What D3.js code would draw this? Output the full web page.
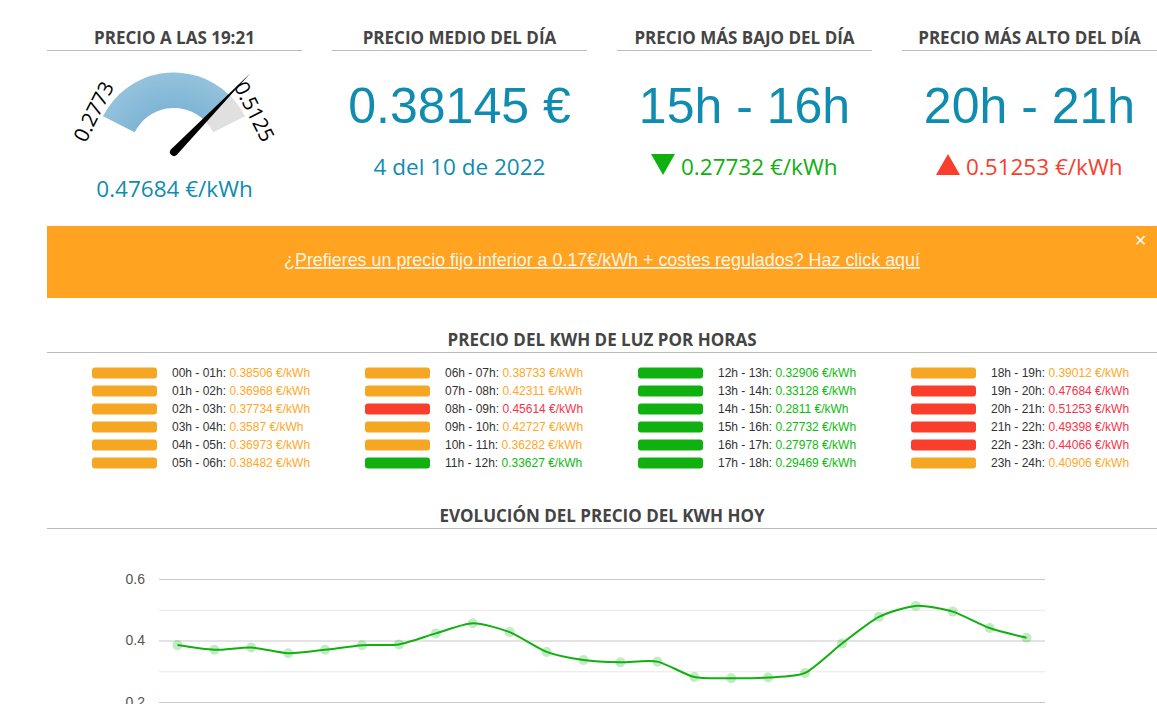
<!DOCTYPE html>
<html lang="es">
<head>
<meta charset="utf-8">
<title>Precio de la luz</title>
<script src="https://cdn.jsdelivr.net/npm/d3@7"></script>
<style>
  html, body { margin: 0; background: #fff; overflow: hidden; }
  svg { display: block; }
  .heading { font-family: "Open Sans", sans-serif; font-weight: 700; fill: #444; text-anchor: middle; font-size: 17px; }
  .rule { stroke: #bbb; stroke-width: 1; shape-rendering: crispEdges; }
  .big { font-family: "Liberation Sans", sans-serif; fill: #0f8cb0; text-anchor: middle; font-size: 50px; }
  .sub { font-family: "Open Sans", sans-serif; text-anchor: middle; font-size: 22.5px; }
  .row { font-family: "Liberation Sans", sans-serif; font-size: 12px; }
  .tick text { font-family: "Liberation Sans", sans-serif; font-size: 14px; fill: #555; }
</style>
</head>
<body>
<div id="chart"></div>
<script>
// Prices for today, one per hour
const hourLabels = ["00h - 01h", "01h - 02h", "02h - 03h", "03h - 04h", "04h - 05h", "05h - 06h",
  "06h - 07h", "07h - 08h", "08h - 09h", "09h - 10h", "10h - 11h", "11h - 12h",
  "12h - 13h", "13h - 14h", "14h - 15h", "15h - 16h", "16h - 17h", "17h - 18h",
  "18h - 19h", "19h - 20h", "20h - 21h", "21h - 22h", "22h - 23h", "23h - 24h"];
const hourPrices = [0.38506, 0.36968, 0.37734, 0.3587, 0.36973, 0.38482,
  0.38733, 0.42311, 0.45614, 0.42727, 0.36282, 0.33627,
  0.32906, 0.33128, 0.2811, 0.27732, 0.27978, 0.29469,
  0.39012, 0.47684, 0.51253, 0.49398, 0.44066, 0.40906];

const gaugeRange = [0.2773, 0.5125];
const gaugeValue = 0.47684;
const majorTicks = [0.6, 0.4, 0.2, 0];
const minorTicks = [0.5, 0.3, 0.1];

const headings = ["PRECIO A LAS 19:21", "PRECIO MEDIO DEL DÍA", "PRECIO MÁS BAJO DEL DÍA", "PRECIO MÁS ALTO DEL DÍA"];
const banner = "¿Prefieres un precio fijo inferior a 0.17€/kWh + costes regulados? Haz click aquí";

const svgWidth = 1157;
const svgHeight = 704;
const green = "#0fb00f", orange = "#f5a623", red = "#f93e2b";

const svg = d3.select("#chart").append("svg")
  .attr("width", svgWidth)
  .attr("height", svgHeight);

// Top row of four panels
const panelX = [47, 332, 617, 902];
const panelWidth = 255;
headings.forEach((h, i) => {
  svg.append("text").attr("class", "heading")
    .attr("x", panelX[i] + panelWidth / 2).attr("y", 44)
    .text(h);
  svg.append("line").attr("class", "rule")
    .attr("x1", panelX[i]).attr("x2", panelX[i] + panelWidth)
    .attr("y1", 50.5).attr("y2", 50.5);
});

// Gauge
const gaugeAngle = d3.scaleLinear().domain(gaugeRange).range([-63.3, 63.3]);
const rad = (d) => (d * Math.PI) / 180;
const arc = d3.arc().innerRadius(44).outerRadius(79.5);
const gauge = svg.append("g").attr("transform", "translate(174,152)");

const shade = svg.append("defs").append("radialGradient")
  .attr("id", "gaugeFill")
  .attr("gradientUnits", "userSpaceOnUse")
  .attr("cx", 0).attr("cy", 0).attr("r", 79.5);
shade.append("stop").attr("offset", "55%").attr("stop-color", "#7fb5d5");
shade.append("stop").attr("offset", "100%").attr("stop-color", "#93c2dc");

gauge.append("path").attr("fill", "#e0e0e0")
  .attr("d", arc({ startAngle: rad(gaugeAngle(gaugeValue)), endAngle: rad(gaugeAngle(gaugeRange[1])) }));
gauge.append("path").attr("fill", "url(#gaugeFill)")
  .attr("d", arc({ startAngle: rad(gaugeAngle(gaugeRange[0])), endAngle: rad(gaugeAngle(gaugeValue)) }));
gauge.selectAll(".limit").data(gaugeRange).enter().append("text")
  .attr("class", "limit")
  .attr("transform", (d) => `rotate(${gaugeAngle(d)}) translate(0,-90)`)
  .attr("text-anchor", "middle")
  .attr("dy", ".35em")
  .style("font-family", "'Open Sans', sans-serif")
  .style("font-size", "20.5px")
  .style("fill", "#000")
  .text((d) => d);
// needle, tapered from the round base out to the tip
gauge.append("path")
  .attr("transform", `rotate(${gaugeAngle(gaugeValue)})`)
  .attr("fill", "#000")
  .attr("d", "M-4,0 L0,-110 L4,0 A4,4 0 0 1 -4,0 Z");

svg.append("text").attr("class", "sub")
  .attr("x", 174.5).attr("y", 197)
  .style("fill", "#0f8cb0")
  .text(`${gaugeValue} €/kWh`);

// Average price
svg.append("text").attr("class", "big").attr("x", 459.5).attr("y", 123)
  .text(d3.mean(hourPrices).toFixed(5) + " €");
svg.append("text").attr("class", "sub").attr("x", 459.5).attr("y", 175)
  .style("fill", "#0f8cb0").text("4 del 10 de 2022");

// Lowest and highest price
const lowIndex = d3.minIndex(hourPrices);
const highIndex = d3.maxIndex(hourPrices);
svg.append("text").attr("class", "big").attr("x", 744.5).attr("y", 123)
  .text(hourLabels[lowIndex]);
svg.append("text").attr("class", "big").attr("x", 1029.5).attr("y", 123)
  .text(hourLabels[highIndex]);

svg.append("path").attr("fill", green).attr("d", "M651,154 L675,154 L663,175 Z");
svg.append("path").attr("fill", red).attr("d", "M936,175 L960,175 L948,154 Z");
svg.append("text").attr("class", "sub").attr("x", 681).attr("y", 175)
  .style("text-anchor", "start").style("fill", green)
  .text(`${hourPrices[lowIndex]} €/kWh`);
svg.append("text").attr("class", "sub").attr("x", 966).attr("y", 175)
  .style("text-anchor", "start").style("fill", red)
  .text(`${hourPrices[highIndex]} €/kWh`);

// Banner
svg.append("rect").attr("x", 47).attr("y", 226).attr("width", 1110).attr("height", 72).attr("fill", "#ffa321");
svg.append("text").attr("x", 602).attr("y", 266)
  .attr("text-anchor", "middle")
  .style("font-family", "'Liberation Sans', sans-serif").style("font-size", "17.9px")
  .style("fill", "#fff").style("fill-opacity", 0.9).style("text-decoration", "underline")
  .text(banner);
svg.append("text").attr("x", 1140.5).attr("y", 247)
  .attr("text-anchor", "middle")
  .style("font-family", "'Liberation Sans', sans-serif").style("font-size", "20px")
  .style("fill", "#fff").text("×");

// Hourly list
svg.append("text").attr("class", "heading").attr("x", 602).attr("y", 346)
  .text("PRECIO DEL KWH DE LUZ POR HORAS");
svg.append("line").attr("class", "rule").attr("x1", 47).attr("x2", 1157).attr("y1", 352.5).attr("y2", 352.5);

const barColor = d3.scaleThreshold().domain([0.34, 0.44]).range([green, orange, red]);
const textColor = d3.scaleThreshold().domain([0.34, 0.44]).range(["#0cbb0c", "#ffa726", "#f9324a"]);
const columnX = d3.scaleLinear().domain([0, 3]).range([92, 911]);
const rowY = d3.scaleLinear().domain([0, 5]).range([373, 463]);

const rows = svg.selectAll(".row").data(hourPrices).enter().append("g")
  .attr("class", "row")
  .attr("transform", (d, i) => `translate(${columnX(Math.floor(i / 6))},${rowY(i % 6)})`);
rows.append("rect")
  .attr("y", -5.5).attr("width", 65).attr("height", 11).attr("rx", 3)
  .attr("fill", (d) => barColor(d));
const rowText = rows.append("text").attr("x", 80).attr("dy", ".35em");
rowText.append("tspan").style("fill", "#333").text((d, i) => hourLabels[i] + ": ");
rowText.append("tspan").style("fill", (d) => textColor(d)).text((d) => `${d} €/kWh`);

// Evolution chart
svg.append("text").attr("class", "heading").attr("x", 602).attr("y", 522)
  .text("EVOLUCIÓN DEL PRECIO DEL KWH HOY");
svg.append("line").attr("class", "rule").attr("x1", 47).attr("x2", 1157).attr("y1", 528.5).attr("y2", 528.5);

const x = d3.scaleBand().domain(hourLabels).range([159, 1045]);
const y = d3.scaleLinear().domain([0, 0.6]).range([763.5, 579]);
const cx = (i) => x(hourLabels[i]) + x.bandwidth() / 2;

const minorAxis = d3.axisLeft(y).tickValues(minorTicks).tickSize(-(1045 - 159)).tickFormat("");
const majorAxis = d3.axisLeft(y).tickValues(majorTicks).tickSize(-(1045 - 159)).tickPadding(14).tickFormat(d3.format(".1f"));

svg.append("g").attr("transform", "translate(159,0)").call(minorAxis)
  .call((g) => g.select(".domain").remove())
  .call((g) => g.selectAll("line").attr("stroke", "#e8e8e8"));
svg.append("g").attr("transform", "translate(159,0)").call(majorAxis)
  .call((g) => g.select(".domain").remove())
  .call((g) => g.selectAll("line").attr("stroke", "#c8c8c8"));

svg.append("g").selectAll("circle").data(hourPrices).enter().append("circle")
  .attr("cx", (d, i) => cx(i))
  .attr("cy", (d) => y(d))
  .attr("r", 5)
  .attr("fill", green)
  .attr("fill-opacity", 0.25);

const line = d3.line()
  .x((d, i) => cx(i))
  .y((d) => y(d))
  .curve(d3.curveCardinal.tension(0.3));
svg.append("path").datum(hourPrices)
  .attr("fill", "none")
  .attr("stroke", green)
  .attr("stroke-width", 2)
  .attr("d", line);
</script>
</body>
</html>
